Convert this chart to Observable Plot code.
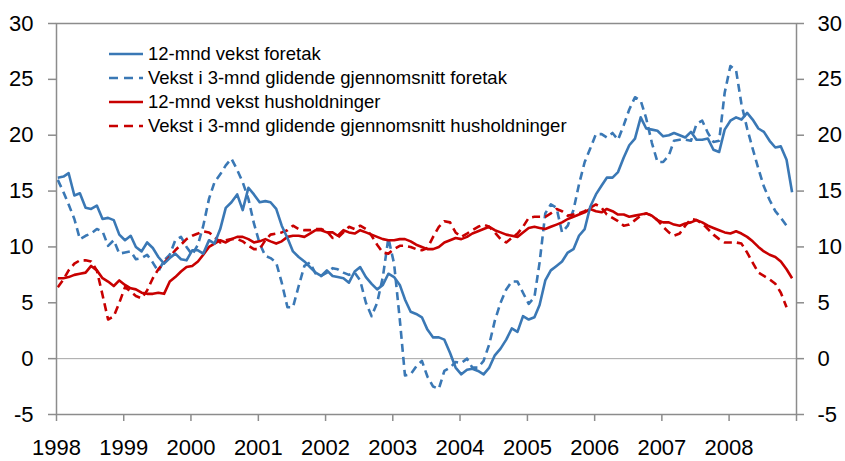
<!DOCTYPE html>
<html>
<head>
<meta charset="utf-8">
<script src="https://cdn.jsdelivr.net/npm/d3@7"></script>
<script src="https://cdn.jsdelivr.net/npm/@observablehq/plot@0.6"></script>
<style>
  html, body { margin: 0; padding: 0; background: #fff; }
  body { font-family: "Liberation Sans", Arial, sans-serif; }
  #wrap { position: relative; width: 845px; height: 461px; }
  #legend { position: absolute; left: 109px; top: 42px; font-size: 18.5px; color: #000; line-height: 1; }
  .row { display: flex; align-items: center; height: 24px; white-space: nowrap; }
  .row svg { margin-right: 5px; flex: none; }
</style>
</head>
<body>
<div id="wrap"><div id="chart"></div><div id="legend"></div></div>
<script>
// ---- data (monthly, from Jan 1998) ----
const startYear = 1998;
const seriesNames = [
  "12-mnd vekst foretak",
  "Vekst i 3-mnd glidende gjennomsnitt foretak",
  "12-mnd vekst husholdninger",
  "Vekst i 3-mnd glidende gjennomsnitt husholdninger"
];
const foretak12 = [
  16.2,16.3,16.6,14.6,14.8,13.5,13.4,13.7,12.5,12.6,12.4,11.1,
  10.6,11.0,10.0,9.6,10.4,9.9,9.1,8.5,9.0,9.4,8.9,8.8,
  9.7,9.7,9.4,10.6,10.3,11.6,13.5,14.0,14.7,13.3,15.3,14.7,
  14.0,14.1,14.0,13.4,11.9,10.8,9.6,9.1,8.7,8.2,7.7,7.4,
  7.9,7.4,7.3,7.2,6.8,7.8,8.2,7.3,6.7,6.2,6.6,7.6,
  7.3,6.6,5.3,4.2,4.0,3.7,2.6,1.9,1.9,1.7,0.5,-0.8,
  -1.4,-1.0,-0.9,-1.1,-1.4,-0.8,0.3,0.9,1.7,2.7,2.4,3.8,
  3.5,3.7,4.8,7.0,7.9,8.3,8.7,9.5,9.8,11.0,11.6,13.6,
  14.7,15.5,16.2,16.2,16.7,18.0,19.1,19.7,21.6,20.6,20.5,20.4,
  19.9,20.0,20.2,20.0,19.8,20.3,19.6,19.6,19.7,18.7,18.5,20.5,
  21.3,21.6,21.4,22.0,21.4,20.6,20.3,19.5,18.9,19.0,17.8,14.9
];
const foretak3 = [
  16.0,14.9,13.8,12.5,10.7,11.0,11.2,11.6,11.4,10.1,10.6,9.4,
  9.5,9.6,8.9,9.0,9.3,8.6,7.8,8.8,9.3,10.6,10.9,10.0,
  9.3,10.2,11.9,14.3,15.8,16.5,17.3,17.9,16.9,15.8,14.3,12.1,
  10.3,9.2,9.0,8.6,6.8,4.6,4.6,6.5,8.3,8.6,7.6,7.4,
  7.7,8.1,8.0,7.7,7.5,7.7,7.0,5.0,3.8,5.0,7.3,10.8,
  8.5,3.5,-1.5,-1.4,-0.7,-0.2,-1.6,-2.5,-2.7,-1.1,-0.8,-0.3,
  -0.4,0.0,-0.8,-0.8,-0.2,1.3,3.4,5.0,6.2,6.9,6.9,5.9,
  4.9,5.5,8.6,13.0,13.8,13.5,11.3,11.9,13.3,15.6,17.6,18.8,
  20.1,20.1,19.8,20.2,19.6,20.9,22.3,23.4,23.1,21.5,19.3,17.6,
  17.6,18.2,19.5,19.6,19.6,19.5,21.0,21.3,20.2,19.4,19.5,23.8,
  26.2,25.8,22.8,20.6,18.8,17.0,15.4,14.2,13.2,12.6,11.9
];
const hush12 = [
  7.2,7.2,7.3,7.5,7.6,7.7,8.3,7.9,7.2,6.9,6.5,7.0,
  6.6,6.3,6.2,5.9,5.8,5.8,5.9,5.8,6.9,7.3,7.8,8.2,
  8.3,8.7,9.3,10.0,10.3,10.6,10.4,10.7,10.9,10.9,10.7,10.4,
  10.5,10.7,10.5,10.3,10.5,10.9,11.0,11.0,10.9,11.2,11.5,11.5,
  11.3,11.3,11.0,11.5,11.3,11.2,11.5,11.3,11.1,10.9,10.7,10.6,
  10.6,10.7,10.7,10.5,10.2,10.0,9.8,9.8,10.0,10.4,10.6,10.8,
  10.7,10.9,11.2,11.4,11.6,11.8,11.5,11.3,11.1,11.0,10.9,11.3,
  11.7,11.8,11.7,11.6,11.8,12.0,12.2,12.5,12.7,12.9,13.1,13.4,
  13.2,13.1,13.4,13.2,12.9,12.9,12.7,12.8,12.9,13.0,12.8,12.4,
  12.2,12.2,12.0,11.9,12.1,12.2,12.4,12.2,11.9,11.7,11.5,11.3,
  11.2,11.4,11.2,10.9,10.5,10.0,9.6,9.3,9.1,8.7,8.0,7.2
];
const hush3 = [
  6.4,7.1,7.9,8.5,8.8,8.8,8.7,7.9,5.7,3.5,3.8,5.0,
  6.4,6.0,5.6,5.4,6.1,7.2,8.0,8.6,9.1,9.7,10.2,10.7,
  11.0,11.2,11.4,11.3,10.9,10.4,10.6,10.7,10.7,10.5,10.1,9.8,
  9.8,10.6,11.1,11.2,11.3,11.5,11.9,11.6,11.5,11.5,11.6,11.6,
  11.4,10.8,10.8,11.3,11.8,11.6,11.9,11.6,11.0,10.2,9.5,9.4,
  9.8,10.1,10.1,10.0,9.8,9.7,9.9,10.9,11.8,12.3,12.2,11.3,
  10.9,11.2,11.5,11.8,12.0,11.8,11.3,10.7,10.4,10.8,11.2,11.8,
  12.6,12.7,12.7,12.7,13.0,13.4,13.2,12.8,12.9,13.0,13.2,13.5,
  13.8,13.5,12.9,12.6,12.3,11.9,12.0,12.4,12.8,13.0,12.8,12.4,
  11.8,11.3,11.0,11.2,11.9,12.5,12.4,12.1,11.6,11.1,10.7,10.4,
  10.4,10.4,10.3,9.5,8.6,7.7,7.4,7.1,6.7,5.9,4.6
];
const yTicks = [-5, 0, 5, 10, 15, 20, 25, 30];
const yearTicks = [1998,1999,2000,2001,2002,2003,2004,2005,2006,2007,2008,2009];

// ---- styles ----
const blue = "#3a78b5";
const red = "#c80000";
const axisGray = "#8c8c8c";
const dash = "8,5";
const lw = 2.6;

const toRows = (arr) => arr.map((v, i) => ({date: new Date(Date.UTC(startYear, i, 8)), value: v}));
const seriesDefs = [
  {name: seriesNames[0], data: toRows(foretak12), stroke: blue, dash: null},
  {name: seriesNames[1], data: toRows(foretak3), stroke: blue, dash: dash},
  {name: seriesNames[2], data: toRows(hush12), stroke: red, dash: null},
  {name: seriesNames[3], data: toRows(hush3), stroke: red, dash: dash}
];
const drawOrder = [1, 3, 2, 0];
const yFmt = d => String(d); // plain hyphen for negatives

const chart = Plot.plot({
  width: 845,
  height: 461,
  marginLeft: 56,
  marginRight: 49,
  marginTop: 23,
  marginBottom: 47,
  style: {fontFamily: "'Liberation Sans', Arial, sans-serif", fontSize: "22px", color: "#000", background: "#fff"},
  x: {type: "utc", domain: [new Date(Date.UTC(1998, 0, 1)), new Date(Date.UTC(2009, 0, 1))]},
  y: {domain: [-5, 30]},
  marks: [
    Plot.ruleY([0], {stroke: "#a6a6a6", strokeWidth: 1}),
    ...drawOrder.map(k => {
      const s = seriesDefs[k];
      return Plot.line(s.data, {x: "date", y: "value", stroke: s.stroke, strokeWidth: lw,
        strokeDasharray: s.dash || undefined, strokeLinejoin: "round", strokeLinecap: "butt"});
    }),
    Plot.frame({stroke: axisGray, strokeWidth: 1.5}),
    Plot.axisY(yTicks, {anchor: "left", tickSize: 8, tickPadding: 15, label: null, stroke: axisGray, strokeWidth: 1.5, fill: "#000", fontSize: 22, tickFormat: yFmt}),
    Plot.axisY(yTicks, {anchor: "right", tickSize: 7, tickPadding: 14, label: null, stroke: axisGray, strokeWidth: 1.5, fill: "#000", fontSize: 22, tickFormat: yFmt}),
    Plot.axisX(yearTicks.map(y => new Date(Date.UTC(y, 0, 1))), {anchor: "bottom", tickSize: 7, tickPadding: 18, label: null,
      stroke: axisGray, strokeWidth: 1.5, fill: "#000", fontSize: 22,
      tickFormat: d => d.getUTCFullYear() <= 2008 ? String(d.getUTCFullYear()) : ""})
  ]
});
document.getElementById("chart").appendChild(chart);

// ---- legend (inside plot area) ----
const legend = document.getElementById("legend");
seriesDefs.forEach(s => {
  const row = document.createElement("div");
  row.className = "row";
  const svg = d3.create("svg").attr("width", 34).attr("height", 10);
  svg.append("line").attr("x1", 0).attr("x2", 34).attr("y1", 5).attr("y2", 5)
    .attr("stroke", s.stroke).attr("stroke-width", lw)
    .attr("stroke-dasharray", s.dash ? "9,6" : null);
  row.appendChild(svg.node());
  const span = document.createElement("span");
  span.textContent = s.name;
  row.appendChild(span);
  legend.appendChild(row);
});
</script>
</body>
</html>
